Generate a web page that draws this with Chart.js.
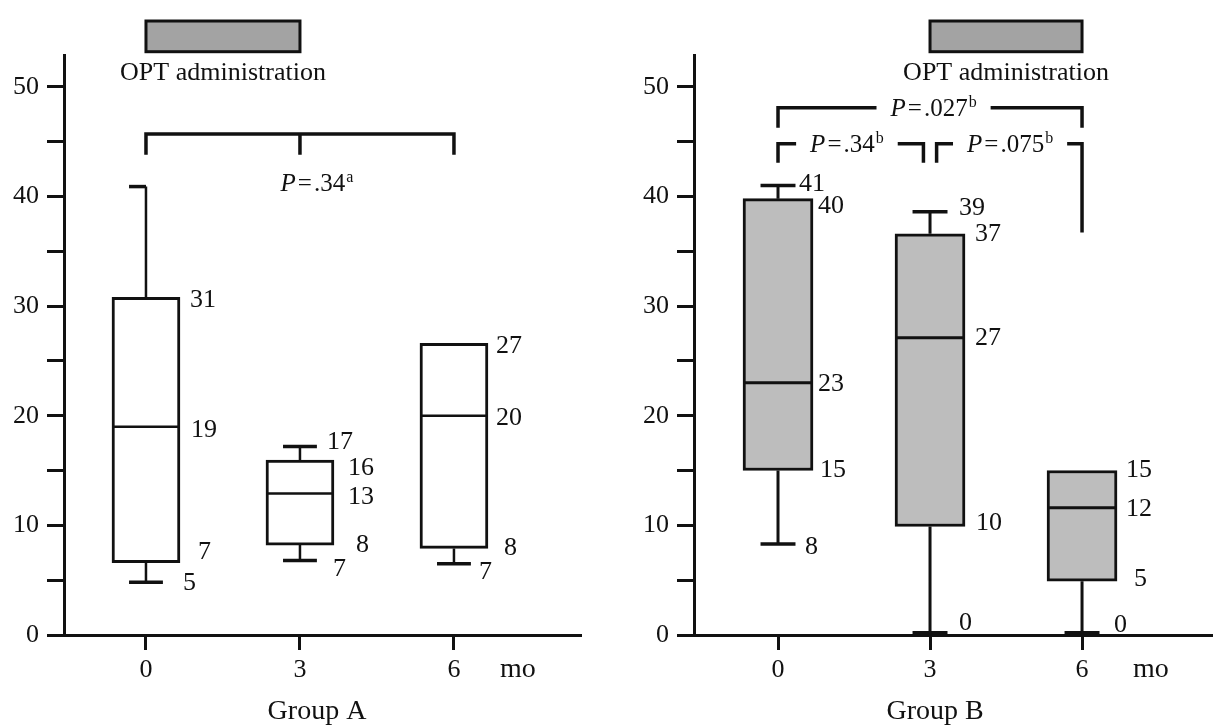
<!DOCTYPE html>
<html><head><meta charset="utf-8">
<script src="https://cdn.jsdelivr.net/npm/chart.js@4.4.1/dist/chart.umd.min.js"></script>
<style>
html,body{margin:0;padding:0;background:#fff;}
#wrap{position:relative;width:1214px;height:727px;overflow:hidden;}
canvas{position:absolute;top:0;}
#cA{left:0}
#cB{left:600px}
</style></head><body>
<div id="wrap"><canvas id="cA" width="600" height="727"></canvas><canvas id="cB" width="614" height="727"></canvas></div>
<script>
// ---------- data ----------
const months = [0, 3, 6];
const xTickLabels = ['0', '3', '6'];
const yTickLabels = ['0', '', '10', '', '20', '', '30', '', '40', '', '50'];
const groupNames = ['Group A', 'Group B'];
const unitLabel = 'mo';
const optLabel = 'OPT administration';

// Group A
const aLow  = [4.8, 6.8, 6.5];
const aQ1   = [6.6, 8.2, 7.9];
const aMed  = [19.0, 12.9, 20.0];
const aQ3   = [30.8, 15.95, 26.6];
const aHigh = [40.9, 17.2, 26.6];
// Group B
const bLow  = [8.3, 0, 0];
const bQ1   = [15.0, 9.9, 4.9];
const bMed  = [23.0, 27.1, 11.6];
const bQ3   = [39.8, 36.6, 15.0];
const bHigh = [41.0, 38.6, 15.0];

// P values
const pValuesA = ['.34'];
const pSupA = ['a'];
const pValuesB = ['.027', '.34', '.075'];
const pSupB = ['b', 'b', 'b'];

// OPT administration periods (months)
const optA = [0, 3];
const optB = [3, 6];

// ---------- styling / layout ----------
const INK = '#111';
const FONT = '"Liberation Serif", "Times New Roman", serif';
const NUM_SIZE = 26;

const panelA = {
  low: aLow, q1: aQ1, med: aMed, q3: aQ3, high: aHigh,
  fill: '#ffffff', boxLW: 3, whiskerLW: 2.5, capLW: 3.5, medLW: 2.5, boxW: 68,
  capHalf: 0.33, halfHighCap: [0],
  xMin: -1.597, xMax: 8.475, yW: 64, padRight: 19,
  group: groupNames[0], groupDx: 17, moDx: 46,
  opt: optA,
  labels: [
    [0,'q3',44,3],[0,'med',45,3],[0,'q1',52,-10],[0,'low',37,1],
    [1,'high',27,-4],[1,'q3',48,8],[1,'med',48,4],[1,'q1',56,0],[1,'low',33,9],
    [2,'q3',42,3],[2,'med',42,2],[2,'q1',50,0],[2,'low',25,8]
  ],
  brackets: [
    {x1:0, x2:6, y:45.7, dropL:43.8, dropR:43.8, mid:3, text:pValuesA[0], sup:pSupA[0], tx:3.33, ty:41.2, gap:false}
  ]
};
const panelB = {
  low: bLow, q1: bQ1, med: bMed, q3: bQ3, high: bHigh,
  fill: '#bdbdbd', boxLW: 3, whiskerLW: 3, capLW: 3.5, medLW: 3, boxW: 70,
  capHalf: 0.345, halfHighCap: [],
  xMin: -1.658, xMax: 8.565, yW: 94, padRight: 2,
  group: groupNames[1], groupDx: 5, moDx: 51,
  opt: optB,
  labels: [
    [0,'high',21,-1],[0,'q3',40,8],[0,'med',40,1],[0,'q1',42,0],[0,'low',27,3],
    [1,'high',29,-4],[1,'q3',45,0],[1,'med',45,0],[1,'q1',46,-3],[1,'low',29,-12],
    [2,'q3',44,0],[2,'med',44,1],[2,'q1',52,-2],[2,'low',32,-10]
  ],
  brackets: [
    {x1:0, x2:6, y:48.1, dropL:46.26, dropR:46.26, text:pValuesB[0], sup:pSupB[0], tx:3.07, gap:true},
    {x1:0, x2:2.87, y:44.8, dropL:43.07, dropR:43.07, text:pValuesB[1], sup:pSupB[1], tx:1.36, gap:true},
    {x1:3.13, x2:6, y:44.8, dropL:43.07, dropR:36.7, text:pValuesB[2], sup:pSupB[2], tx:4.58, gap:true}
  ]
};

function whiskerData(P) {
  const d = [];
  months.forEach((m, i) => {
    if (P.high[i] > P.q3[i]) d.push({x:m, y:P.q3[i]}, {x:m, y:P.high[i]}, {x:m, y:null});
    if (P.low[i] < P.q1[i]) d.push({x:m, y:P.q1[i]}, {x:m, y:P.low[i]}, {x:m, y:null});
  });
  return d;
}
function capData(P) {
  const d = [];
  months.forEach((m, i) => {
    if (P.high[i] > P.q3[i]) {
      const right = P.halfHighCap.includes(i) ? m : m + P.capHalf;
      d.push({x:m - P.capHalf, y:P.high[i]}, {x:right, y:P.high[i]}, {x:m, y:null});
    }
    if (P.low[i] < P.q1[i]) d.push({x:m - P.capHalf, y:P.low[i]}, {x:m + P.capHalf, y:P.low[i]}, {x:m, y:null});
  });
  return d;
}

function drawP(ctx, cx, cy, val, sup) {
  const big = '25px ' + FONT, ital = 'italic 25px ' + FONT, small = '16px ' + FONT;
  ctx.font = ital; const wP = ctx.measureText('P').width;
  ctx.font = big; const wEq = ctx.measureText('=').width; const wV = ctx.measureText(val).width;
  ctx.font = small; const wS = ctx.measureText(sup).width;
  const sp = 2;
  const total = wP + sp + wEq + sp + wV + 1 + wS;
  let x = cx - total / 2;
  ctx.textAlign = 'left'; ctx.textBaseline = 'alphabetic';
  const base = cy + 8;
  ctx.font = ital; ctx.fillText('P', x, base); x += wP + sp;
  ctx.font = big; ctx.fillText('=', x, base); x += wEq + sp;
  ctx.fillText(val, x, base); x += wV + 1;
  ctx.font = small; ctx.fillText(sup, x, base - 9);
  return [cx - total / 2, cx + total / 2];
}

function annotPlugin(P) {
  return {
    id: 'annot',
    afterDraw(chart) {
      const ctx = chart.ctx, xs = chart.scales.x, ys = chart.scales.y;
      ctx.save();
      ctx.fillStyle = INK; ctx.strokeStyle = INK;
      // value labels
      ctx.font = NUM_SIZE + 'px ' + FONT; ctx.textAlign = 'left'; ctx.textBaseline = 'middle';
      P.labels.forEach(([i, key, dx, dy]) => {
        const v = P[key][i];
        ctx.fillText(String(Math.round(v)), xs.getPixelForValue(months[i]) + dx, ys.getPixelForValue(v) + dy);
      });
      // OPT administration bar
      const ox1 = xs.getPixelForValue(P.opt[0]), ox2 = xs.getPixelForValue(P.opt[1]);
      const oy1 = ys.getPixelForValue(56.0), oy2 = ys.getPixelForValue(53.2);
      ctx.fillStyle = '#a3a3a3';
      ctx.fillRect(ox1, oy1, ox2 - ox1, oy2 - oy1);
      ctx.lineWidth = 3; ctx.strokeRect(ox1, oy1, ox2 - ox1, oy2 - oy1);
      ctx.fillStyle = INK;
      ctx.font = '26px ' + FONT; ctx.textAlign = 'center'; ctx.textBaseline = 'middle';
      ctx.fillText(optLabel, (ox1 + ox2) / 2, oy2 + 21);
      // brackets
      ctx.lineWidth = 3.5; ctx.lineJoin = 'miter'; ctx.lineCap = 'butt';
      P.brackets.forEach(b => {
        const x1 = xs.getPixelForValue(b.x1), x2 = xs.getPixelForValue(b.x2);
        const y = ys.getPixelForValue(b.y);
        const yl = ys.getPixelForValue(b.dropL), yr = ys.getPixelForValue(b.dropR);
        if (b.gap) {
          const [tl, tr] = drawP(ctx, xs.getPixelForValue(b.tx), y, b.text, b.sup);
          ctx.beginPath();
          ctx.moveTo(x1, yl); ctx.lineTo(x1, y); ctx.lineTo(tl - 14, y);
          ctx.moveTo(tr + 14, y); ctx.lineTo(x2, y); ctx.lineTo(x2, yr);
          ctx.stroke();
        } else {
          ctx.beginPath();
          ctx.moveTo(x1, yl); ctx.lineTo(x1, y); ctx.lineTo(x2, y); ctx.lineTo(x2, yr);
          const xm = xs.getPixelForValue(b.mid);
          ctx.moveTo(xm, y); ctx.lineTo(xm, ys.getPixelForValue(b.dropL));
          ctx.stroke();
          drawP(ctx, xs.getPixelForValue(b.tx), ys.getPixelForValue(b.ty), b.text, b.sup);
        }
      });
      // unit and group labels
      ctx.font = '28px ' + FONT; ctx.textAlign = 'left'; ctx.textBaseline = 'middle';
      ctx.fillText(unitLabel, xs.getPixelForValue(6) + P.moDx, 670);
      ctx.textAlign = 'center';
      ctx.fillText(P.group, xs.getPixelForValue(3) + P.groupDx, 712);
      ctx.restore();
    }
  };
}

function makeChart(id, P) {
  const datasets = [
    {type:'bar', data: months.map((m, i) => ({x:m, y:[P.q1[i], P.q3[i]]})),
     backgroundColor: P.fill, borderColor: INK, borderWidth: P.boxLW, borderSkipped: false,
     barThickness: P.boxW, order: 3},
    {type:'line', data: whiskerData(P), borderColor: INK, borderWidth: P.whiskerLW,
     pointRadius: 0, spanGaps: false, tension: 0, fill: false, order: 2, clip: false},
    {type:'line', data: capData(P), borderColor: INK, borderWidth: P.capLW, borderCapStyle: 'butt',
     segment: { borderWidth: c => (c.p0.parsed.y === 0 ? 8 : P.capLW) },
     pointRadius: 0, spanGaps: false, tension: 0, fill: false, order: 2, clip: 0},
    {type:'line', data: months.map((m, i) => ({x:m, y:P.med[i]})), showLine: false,
     pointStyle: 'line', pointRadius: P.boxW / 2 - 2, pointBorderWidth: P.medLW,
     pointBorderColor: INK, pointBackgroundColor: INK, order: 1, clip: false}
  ];
  return new Chart(document.getElementById(id), {
    type: 'bar',
    data: { datasets },
    options: {
      responsive: false, animation: false, events: [], devicePixelRatio: 1,
      layout: { autoPadding: false, padding: { top: 55, right: P.padRight, bottom: 0, left: 0 } },
      plugins: { legend: { display: false }, tooltip: { enabled: false } },
      scales: {
        x: {
          type: 'linear', min: P.xMin, max: P.xMax, offset: false,
          grid: { display: true, drawOnChartArea: false, drawTicks: true, tickLength: 15, tickWidth: 3, tickColor: INK, offset: false },
          border: { display: true, color: INK, width: 3 },
          ticks: { stepSize: 3, includeBounds: false, autoSkip: false, maxRotation: 0, minRotation: 0,
                   color: INK, font: { family: FONT, size: NUM_SIZE }, padding: 5,
                   callback: v => { const k = months.indexOf(v); return k >= 0 ? xTickLabels[k] : ''; } },
          afterFit: s => { s.height = 92; }
        },
        y: {
          type: 'linear', min: 0, max: 52.9,
          grid: { display: true, drawOnChartArea: false, drawTicks: true, tickLength: 17, tickWidth: 3, tickColor: INK },
          border: { display: true, color: INK, width: 3 },
          ticks: { stepSize: 5, includeBounds: false, autoSkip: false, color: INK,
                   font: { family: FONT, size: NUM_SIZE }, padding: 8,
                   callback: v => yTickLabels[Math.round(v / 5)] ?? '' },
          afterFit: s => { s.width = P.yW; }
        }
      }
    },
    plugins: [annotPlugin(P)]
  });
}

makeChart('cA', panelA);
makeChart('cB', panelB);
</script>
</body></html>
